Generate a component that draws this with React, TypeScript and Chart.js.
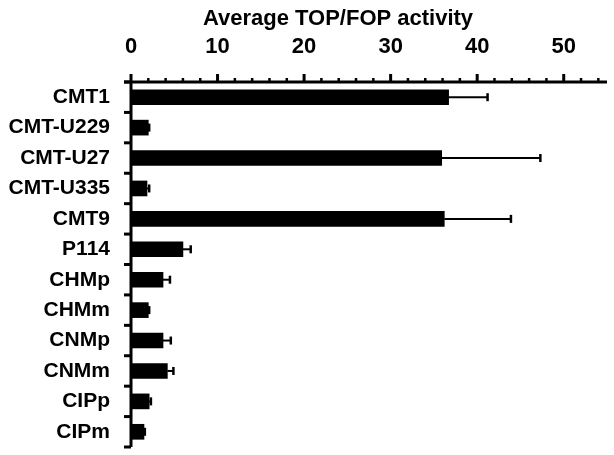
import React, { useEffect, useRef } from "react";
import { Chart, registerables } from "chart.js";

Chart.register(...registerables);

const categories = ["CMT1", "CMT-U229", "CMT-U27", "CMT-U335", "CMT9", "P114", "CHMp", "CHMm", "CNMp", "CNMm", "CIPp", "CIPm"];
const means = [36.7, 2.0, 35.9, 1.85, 36.2, 6.0, 3.7, 2.0, 3.7, 4.2, 2.1, 1.5];
const errors = [4.5, 0.1, 11.4, 0.25, 7.7, 0.9, 0.8, 0.1, 0.9, 0.7, 0.2, 0.1];
const axisTitle = "Average TOP/FOP activity";
const xMin = 0;
const xMax = 55;
const majorStep = 10;
const minorStep = 2;

const FONT = "'Liberation Sans', Arial, Helvetica, sans-serif";

const axesPlugin = {
  id: "customAxes",
  afterDraw(chart: any) {
    const ctx = chart.ctx;
    const xs = chart.scales.x;
    const ys = chart.scales.y;
    const area = chart.chartArea;
    ctx.save();
    ctx.strokeStyle = "#000";
    ctx.fillStyle = "#000";
    ctx.lineCap = "butt";

    // error bars
    for (let i = 0; i < means.length; i++) {
      const yc = ys.getPixelForValue(i);
      const x0 = xs.getPixelForValue(means[i]);
      const x1 = xs.getPixelForValue(means[i] + errors[i]);
      ctx.lineWidth = 2;
      ctx.beginPath();
      ctx.moveTo(x0, yc);
      ctx.lineTo(x1, yc);
      ctx.stroke();
      ctx.lineWidth = 2.5;
      ctx.beginPath();
      ctx.moveTo(x1, yc - 4);
      ctx.lineTo(x1, yc + 4);
      ctx.stroke();
    }

    ctx.lineWidth = 3;
    // x axis line (top)
    ctx.beginPath();
    ctx.moveTo(area.left - 7, area.top);
    ctx.lineTo(area.right, area.top);
    ctx.stroke();
    // x ticks
    for (let v = xMin; v <= xMax + 1e-9; v += minorStep) {
      const px = xs.getPixelForValue(v);
      const major = Math.abs(v % majorStep) < 1e-9;
      ctx.lineWidth = major ? 3 : 2.5;
      ctx.beginPath();
      ctx.moveTo(px, area.top);
      ctx.lineTo(px, area.top - (major ? 8 : 4));
      ctx.stroke();
    }
    // y axis line
    ctx.lineWidth = 3;
    ctx.beginPath();
    ctx.moveTo(area.left, area.top);
    ctx.lineTo(area.left, area.bottom);
    ctx.stroke();
    // y ticks at category boundaries
    for (let i = 0; i <= categories.length; i++) {
      const py = ys.getPixelForValue(i - 0.5);
      ctx.beginPath();
      ctx.moveTo(area.left, py);
      ctx.lineTo(area.left - 7, py);
      ctx.stroke();
    }

    // axis title
    ctx.font = `bold 22px ${FONT}`;
    ctx.textAlign = "center";
    ctx.textBaseline = "alphabetic";
    ctx.fillText(axisTitle, 338, 25);
    ctx.restore();
  },
};

export default function App() {
  const ref = useRef<HTMLCanvasElement | null>(null);
  useEffect(() => {
    if (!ref.current) return;
    const chart = new Chart(ref.current, {
      type: "bar",
      data: {
        labels: categories,
        datasets: [
          {
            data: means,
            backgroundColor: "#000",
            borderWidth: 0,
            barThickness: 15,
          },
        ],
      },
      options: {
        indexAxis: "y",
        animation: false,
        responsive: true,
        maintainAspectRatio: false,
        layout: { padding: { top: 0, left: 0, right: 7, bottom: 8 } },
        plugins: {
          legend: { display: false },
          tooltip: { enabled: false },
          title: { display: false },
        },
        scales: {
          x: {
            type: "linear",
            position: "top",
            min: xMin,
            max: xMax,
            grid: { display: false, drawTicks: false },
            border: { display: false },
            ticks: {
              stepSize: majorStep,
              includeBounds: false,
              color: "#000",
              padding: 22,
              maxRotation: 0,
              font: { family: FONT, size: 22, weight: "bold" },
            },
            afterFit(scale: any) {
              scale.height = 82;
              scale.paddingLeft = 0;
              scale.paddingRight = 0;
            },
          },
          y: {
            type: "category",
            offset: true,
            grid: { display: false, drawTicks: false },
            border: { display: false },
            ticks: {
              color: "#000",
              padding: 21,
              autoSkip: false,
              font: { family: FONT, size: 21, weight: "bold" },
            },
            afterFit(scale: any) {
              scale.width = 131;
              scale.paddingTop = 0;
              scale.paddingBottom = 0;
            },
          },
        },
      },
      plugins: [axesPlugin],
    } as any);
    return () => chart.destroy();
  }, []);
  return (
    <div style={{ position: "absolute", left: 0, top: 0, width: 614, height: 455, background: "#fff" }}>
      <canvas ref={ref} />
    </div>
  );
}
